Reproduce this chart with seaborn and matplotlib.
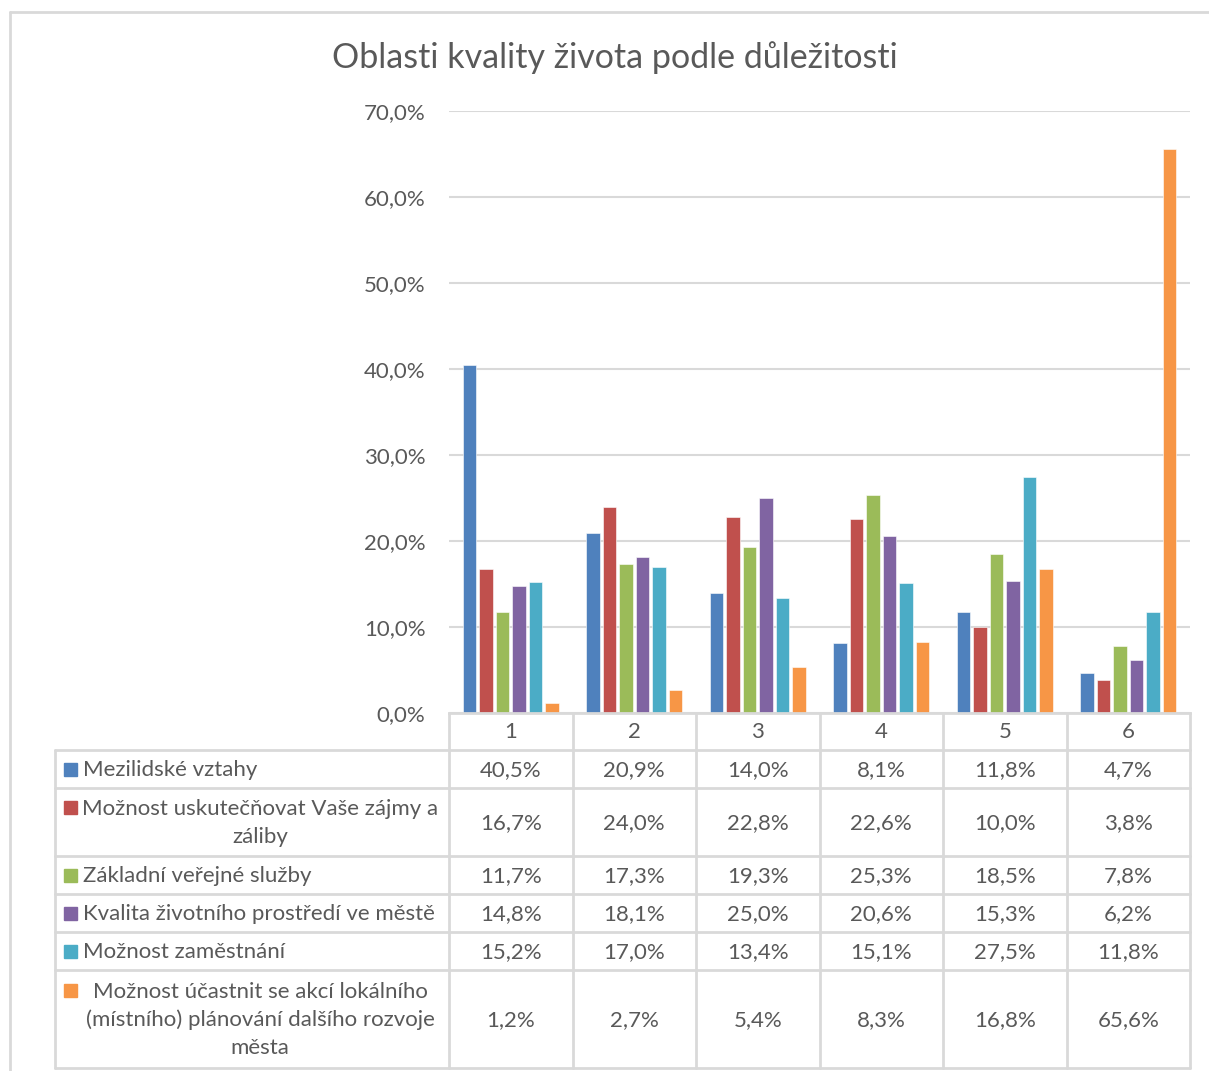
import numpy as np
import pandas as pd
import seaborn as sns
import matplotlib.pyplot as plt
from matplotlib.ticker import FuncFormatter
from matplotlib.patches import Rectangle

# data
poradi = ['1', '2', '3', '4', '5', '6']
oblasti = ['Mezilidské vztahy',
           'Možnost uskutečňovat Vaše zájmy a\nzáliby',
           'Základní veřejné služby',
           'Kvalita životního prostředí ve městě',
           'Možnost zaměstnání',
           'Možnost účastnit se akcí lokálního\n(místního) plánování dalšího rozvoje\nměsta']
mezilidske = [40.5, 20.9, 14.0, 8.1, 11.8, 4.7]
zajmy = [16.7, 24.0, 22.8, 22.6, 10.0, 3.8]
sluzby = [11.7, 17.3, 19.3, 25.3, 18.5, 7.8]
prostredi = [14.8, 18.1, 25.0, 20.6, 15.3, 6.2]
zamestnani = [15.2, 17.0, 13.4, 15.1, 27.5, 11.8]
planovani = [1.2, 2.7, 5.4, 8.3, 16.8, 65.6]
barvy = ['#4F81BD', '#C0504D', '#9BBB59', '#8064A2', '#4BACC6', '#F79646']

rady = [mezilidske, zajmy, sluzby, prostredi, zamestnani, planovani]
df = pd.DataFrame({
    'poradi': poradi * len(oblasti),
    'oblast': np.repeat(oblasti, len(poradi)),
    'podil': np.concatenate(rady),
})

sns.set_style('white')
plt.rcParams['font.family'] = ['Lato', 'DejaVu Sans']
seda = '#595959'
cara = '#D9D9D9'
fs = 16

W, H = 1209, 1071
fig = plt.figure(figsize=(W / 100, H / 100), dpi=100)

# plot area in pixel coords
x0, x1, ytop, ybot = 449, 1190, 111, 713
ax = fig.add_axes([x0 / W, 1 - ybot / H, (x1 - x0) / W, (ybot - ytop) / H])
sns.barplot(data=df, x='poradi', y='podil', hue='oblast', palette=barvy, saturation=1,
            width=0.8, gap=0.2, legend=False, ax=ax, edgecolor='white', linewidth=0.4)
ax.set_xlim(-0.5, 5.5)
ax.set_ylim(0, 70)
ax.set_yticks(range(0, 71, 10))
ax.yaxis.set_major_formatter(FuncFormatter(lambda v, p: f'{v:.1f}%'.replace('.', ',')))
ax.tick_params(axis='y', length=0, pad=17, labelsize=fs, labelcolor=seda)
ax.tick_params(axis='x', length=0, labelbottom=False)
ax.set_xlabel('')
ax.set_ylabel('')
ax.grid(axis='y', color=cara, linewidth=1.5)
ax.set_axisbelow(True)
for s in ['top', 'right', 'left']:
    ax.spines[s].set_visible(False)
ax.spines['bottom'].set_color(cara)
ax.spines['bottom'].set_linewidth(2)

# overlay for title, table and frame (pixel coordinates)
ov = fig.add_axes([0, 0, 1, 1], zorder=5)
ov.set_xlim(0, W)
ov.set_ylim(H, 0)
ov.axis('off')
ov.patch.set_alpha(0)

ov.plot([10, 10], [12, H], color=cara, lw=2)
ov.plot([10, W], [12, 12], color=cara, lw=2)

ov.text(615, 58, 'Oblasti kvality života podle důležitosti', ha='center', va='center',
        fontsize=24.5, color=seda)

row_y = [713, 750, 788, 856, 894, 932, 970, 1068]
col_x = np.linspace(x0, x1, len(poradi) + 1)
tl = 55

for y in row_y[1:]:
    ov.plot([tl, x1], [y, y], color=cara, lw=2)
ov.plot([tl, tl], [row_y[1], row_y[-1]], color=cara, lw=2)
for x in col_x:
    ov.plot([x, x], [row_y[0], row_y[-1]], color=cara, lw=2)

for i, p in enumerate(poradi):
    ov.text((col_x[i] + col_x[i + 1]) / 2, (row_y[0] + row_y[1]) / 2 + 1, p,
            ha='center', va='center', fontsize=fs, color=seda)

for r, (lab, vals, c) in enumerate(zip(oblasti, rady, barvy)):
    ya, yb = row_y[r + 1], row_y[r + 2]
    yc = (ya + yb) / 2
    n = lab.count('\n') + 1
    first = yc - (n - 1) * 29 / 2
    ov.add_patch(Rectangle((64, first - 6.5), 13, 13, color=c))
    if n == 1:
        ov.text(83, yc + 1, lab, ha='left', va='center', fontsize=fs, color=seda)
    else:
        ov.text(260, yc + 1, lab, ha='center', va='center', fontsize=fs, color=seda,
                multialignment='center', linespacing=1.5)
    for i, v in enumerate(vals):
        ov.text((col_x[i] + col_x[i + 1]) / 2, yc + 1, f'{v:.1f}%'.replace('.', ','),
                ha='center', va='center', fontsize=fs, color=seda)

fig.savefig('out.png', dpi=100)
